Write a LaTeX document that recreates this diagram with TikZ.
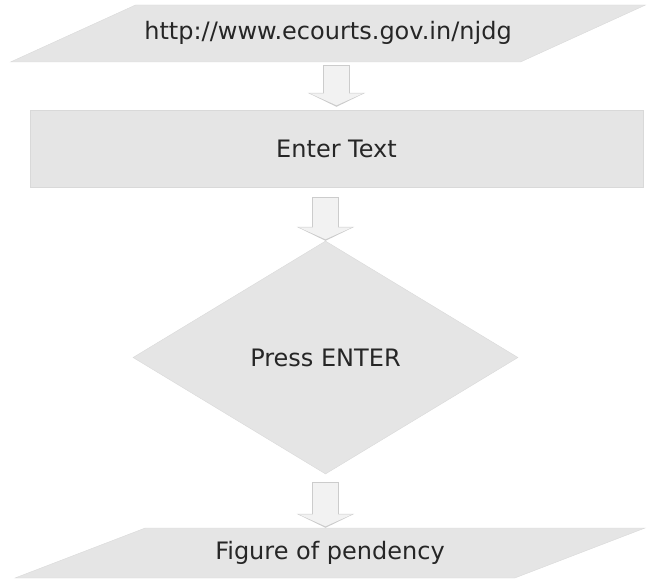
\documentclass[tikz,border=0pt]{standalone}
\usepackage{fontspec}
\setmainfont{DejaVu Sans}
\usetikzlibrary{positioning, shapes.geometric, arrows.meta}

\begin{document}
\begin{tikzpicture}[x=1pt, y=-1pt, on grid, font=\fontsize{24}{28}\selectfont,
        box/.style = {fill=gray!20, draw=gray!30, inner sep=0pt, text=black!85},
        io/.style = {box, trapezium, trapezium stretches body, text height=18pt, text depth=5pt},
        process/.style = {box, rectangle},
        decision/.style = {box, diamond},
        flowout/.style = {line width=27pt, draw=gray!40, -{Triangle[width=57pt, length=14pt]}},
        flowin/.style = {line width=25pt, draw=gray!10, -{Triangle[width=53pt, length=12pt]}}]
        \useasboundingbox (0,0) rectangle (647,583);

        \node[io, inner ysep=17pt, trapezium left angle=24.5, trapezium right angle=155.5, minimum width=635pt] (url) at (328,33.5) {http://www.ecourts.gov.in/njdg};
        \node[process, minimum width=613pt, minimum height=77pt] (enter) [below=115pt of url, xshift=8.5pt] {Enter Text};
        \node[decision, minimum width=385pt, minimum height=233pt] (press) [below=209pt of enter, xshift=-11pt] {Press ENTER};
        \node[io, inner ysep=13.5pt, trapezium left angle=21, trapezium right angle=159, minimum width=630pt] (result) [below=195.5pt of press, xshift=4.5pt] {Figure of pendency};

        \draw[flowout, shorten <=3pt, shorten >=3pt] (enter.north |- url.south) -- (enter.north);
        \draw[flowin, shorten <=4pt, shorten >=4.5pt] (enter.north |- url.south) -- (enter.north);
        \draw[flowout, shorten <=10pt, shorten >=0pt] (press.north |- enter.south) -- (press.north);
        \draw[flowin, shorten <=11pt, shorten >=1.5pt] (press.north |- enter.south) -- (press.north);
        \draw[flowout, shorten <=8pt, shorten >=0pt] (press.south) -- (press.south |- result.north);
        \draw[flowin, shorten <=9pt, shorten >=1.5pt] (press.south) -- (press.south |- result.north);

    \end{tikzpicture}
\end{document}
